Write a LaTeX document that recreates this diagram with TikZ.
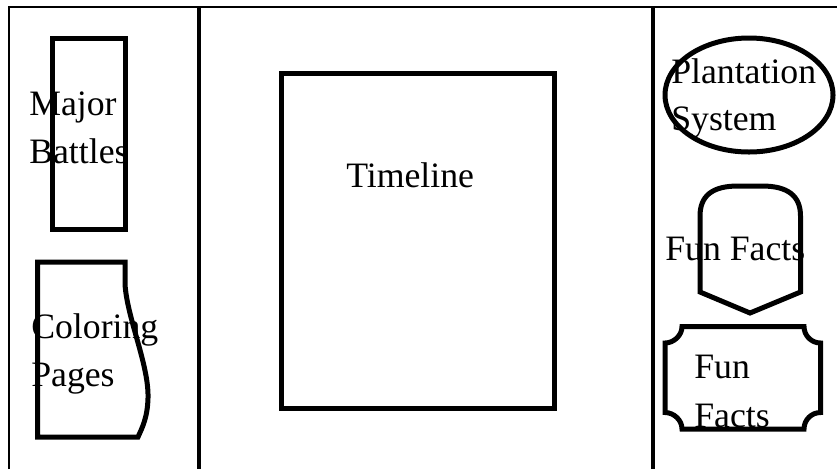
\documentclass[tikz,border=0pt]{standalone}
\usepackage{fontspec}
\setmainfont{Liberation Serif}
\usetikzlibrary{shapes.geometric}
\begin{document}
\begin{tikzpicture}[x=0.75pt,y=-0.75pt,
  frame/.style={line width=1.5pt},
  divider/.style={line width=3pt},
  shapeline/.style={line width=3.75pt, line join=miter},
  lbl/.style={inner sep=0pt, anchor=base west, font=\fontsize{26.8pt}{36pt}\selectfont}]
\useasboundingbox (0,0) rectangle (837,469);
% outer frame and column dividers
\coordinate (tl) at (8.5,7);
\coordinate (tr) at (837,7);
\coordinate (bl) at (8.5,469);
\draw[frame] (bl) -- (tl) -- (tr);
\coordinate (d1t) at (199,7);
\coordinate (d1b) at (199,469);
\coordinate (d2t) at (653,7);
\coordinate (d2b) at (653,469);
\draw[divider] (d1t) -- (d1b);
\draw[divider] (d2t) -- (d2b);
% Major Battles
\draw[shapeline] (52,38) rectangle (125.5,229);
\node[lbl] (mj1) at (29,115) {Major};
\node[lbl] (mj2) at (29,163) {Battles};
% Coloring Pages (wavy right edge)
\draw[shapeline] (37.5,262) -- (125,262) -- (125,284)
  .. controls (127,318) and (149,365) .. (148,398)
  .. controls (147.5,418) and (142,428) .. (138,437) -- (37.5,437) -- cycle;
\node[lbl] (cp1) at (31,338) {Coloring};
\node[lbl] (cp2) at (31,386) {Pages};
% Timeline
\draw[shapeline] (281,73) rectangle (554,408);
\node[lbl] (tm) at (346,187) {Timeline};
% Plantation System ellipse
\draw[shapeline] (749,95) ellipse [x radius=84, y radius=57];
\node[lbl] (ps1) at (671,83) {Plantation};
\node[lbl] (ps2) at (671,130) {System};
% Fun Facts (pointed bottom, rounded top)
\draw[shapeline] (700,292) -- (700,216)
  .. controls (700,196) and (712,186) .. (738,186) -- (762,186)
  .. controls (788,186) and (800.5,196) .. (800.5,216)
  -- (800.5,292) -- (750,313) -- cycle;
\node[lbl] (ff1) at (665,260) {Fun Facts};
% Fun Facts plaque (concave corners)
\draw[shapeline] (682,326.5) -- (804,326.5)
  .. controls (804,335.6) and (811.4,343) .. (820.5,343)
  -- (820.5,412.5)
  .. controls (811.4,412.5) and (804,419.9) .. (804,429)
  -- (682,429)
  .. controls (682,419.9) and (673.6,412.5) .. (665,412.5)
  -- (665,343)
  .. controls (673.6,343) and (682,335.6) .. (682,326.5) -- cycle;
\node[lbl] (ff2) at (694,378) {Fun};
\node[lbl] (ff3) at (694,427) {Facts};
\end{tikzpicture}
\end{document}
